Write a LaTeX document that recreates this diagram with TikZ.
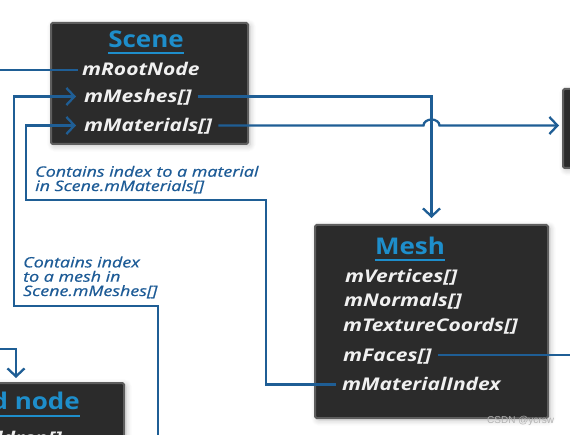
\documentclass[tikz,border=0pt]{standalone}
\usepackage{fontspec}
\setmainfont{Open Sans}
\newfontfamily\wmfont{Liberation Sans}
\newfontfamily\titlefont[FakeStretch=1.13]{Open Sans}
\newfontfamily\itemfont[FakeStretch=1.2]{Open Sans}
\newfontfamily\notefont[FakeStretch=1.25, ItalicFeatures={FakeBold=0.7}]{Open Sans}
\usetikzlibrary{arrows.meta,shadows.blur,calc}
\definecolor{boxfill}{HTML}{2B2B2B}
\definecolor{boxedge}{HTML}{5E5E5E}
\definecolor{titleblue}{HTML}{1E8ECB}
\definecolor{linkblue}{HTML}{1F5E95}
\definecolor{notecol}{HTML}{1D5B96}
\definecolor{itemcol}{HTML}{F0F0F0}
\begin{document}
\begin{tikzpicture}[x=1pt,y=-1pt,
  box/.style={draw=boxedge, line width=2pt, fill=boxfill, rounded corners=1.5pt,
    blur shadow={shadow blur steps=10, shadow xshift=2pt, shadow yshift=-2pt, shadow blur radius=6pt, shadow opacity=25}},
  boxtitle/.style={text=titleblue, inner sep=0pt, font=\titlefont\fontsize{23}{26}\selectfont\bfseries},
  uline/.style={draw=titleblue, line width=2pt},
  item/.style={text=itemcol, inner sep=0pt, anchor=west, text height=12.5pt, text depth=0.5pt,
    font=\itemfont\fontsize{17.5}{20}\selectfont\bfseries\itshape},
  note/.style={text=notecol, inner sep=0pt, align=left, font=\notefont\fontsize{14.3}{14.3}\selectfont\itshape},
  link/.style={draw=linkblue, line width=2.3pt},
  tip/.style={-{Straight Barb[length=8pt,width=17pt,line width=2.3pt]}}
]
\useasboundingbox (0,0) rectangle (570,435);

% boxes
\node[box, anchor=north west, minimum width=197pt, minimum height=121pt] (scene) at (50,22) {};
\node[box, anchor=north west, minimum width=233pt, minimum height=193pt] (mesh) at (314,224) {};
\node[box, anchor=north west, minimum width=40pt, minimum height=79pt] (rbox) at (562,88) {};
\node[box, anchor=north west, minimum width=143pt, minimum height=80pt] (child) at (-20,382) {};

% titles
\node[boxtitle, anchor=base] (sceneT) at (146,48) {Scene};
\draw[uline] ($(sceneT.base west)+(0,5)$) -- ($(sceneT.base east)+(0,5)$);
\node[boxtitle, anchor=base] (meshT) at (410,255) {Mesh};
\draw[uline] ($(meshT.base west)+(0,5)$) -- ($(meshT.base east)+(0,5)$);
\node[boxtitle, anchor=base east] (childT) at (80,409) {Child node};
\draw[uline] ($(childT.base west)+(0,7)$) -- ($(childT.base east)+(0,7)$);

% scene items
\node[item] (root) at (82,70) {mRootNode};
\node[item] (meshes) at (84,96.5) {mMeshes[]};
\node[item] (materials) at (84,125.5) {mMaterials[]};

% mesh items
\node[item] (verts) at (345,277) {mVertices[]};
\node[item] (norms) at (344,301) {mNormals[]};
\node[item] (texc) at (343,326) {mTextureCoords[]};
\node[item] (faces) at (343,355) {mFaces[]};
\node[item] (matidx) at (342,384.5) {mMaterialIndex};

% child items
\node[item, anchor=base east] (children) at (62,444) {mChildren[]};

% notes (base = baseline of the last line)
\node[note, anchor=base west] (note1) at (35,191) {Contains index to a material\\in Scene.mMaterials[]};
\node[note, anchor=base west] (note2) at (23,296) {Contains index\\to a mesh in\\Scene.mMeshes[]};

% free ends and bends
\coordinate (rootL) at (-2,70);
\coordinate (cm0) at (158,445);
\coordinate (cm1) at (14,306);
\coordinate (mb1) at (266,200);
\coordinate (mb2) at (26,200);
\coordinate (fR) at (575,355);
\coordinate (cL) at (-2,349);
\coordinate (cT) at (16,349);
\coordinate (jmp) at (materials.east -| mesh.north);

% connectors
\draw[link, shorten >=4pt] (rootL) -- (root.west);
\draw[link, tip, shorten >=8pt] (cm0) |- (cm1) |- (meshes.west);
\draw[link, tip, shorten <=6pt, shorten >=8pt] (matidx.west) -| (mb1) -- (mb2) |- (materials.west);
\draw[link, tip, shorten <=6pt, shorten >=6pt] (meshes.east) -| (mesh.north);
\draw[link, tip, shorten <=6pt, shorten >=3pt] (materials.east) -- ($(jmp)+(-8,0)$)
   arc[start angle=180, end angle=360, x radius=8, y radius=6] -- (materials.east -| rbox.west);
\draw[link, shorten <=6pt] (faces.east) -- (faces.east -| fR);
\draw[link, tip, shorten >=4pt] (cL) -- (cT) -- (cT |- child.north);

% watermark
\node[text=gray!60, inner sep=0pt, anchor=base west, font=\wmfont\fontsize{10}{12}\selectfont] (wm) at (487,423) {CSDN @ycrsw};
\end{tikzpicture}
\end{document}
